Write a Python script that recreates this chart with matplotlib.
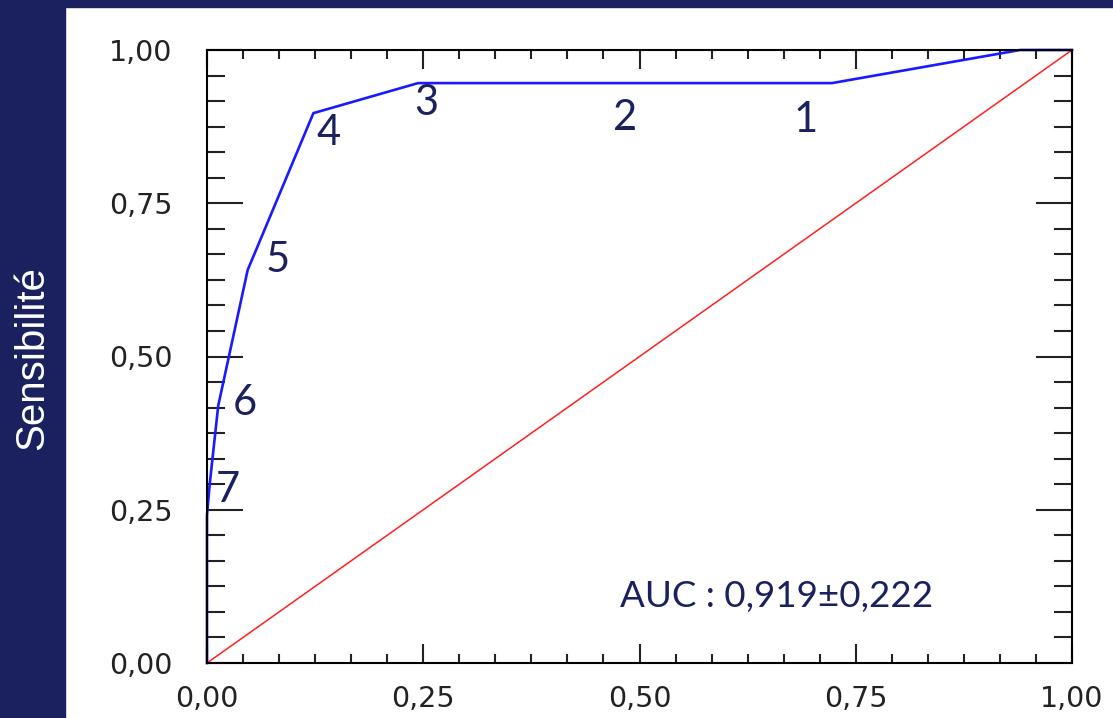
import matplotlib
matplotlib.use("Agg")
import matplotlib.pyplot as plt
from matplotlib.patches import Rectangle
from matplotlib.ticker import MultipleLocator, FuncFormatter

NAVY = "#1a215e"

# ROC curve (1 - specificity, sensitivity)
fpr = [0.0, 0.0, 0.003, 0.013, 0.047, 0.123, 0.244, 0.49, 0.7225, 0.94, 1.0]
tpr = [0.0, 0.241, 0.29, 0.42, 0.641, 0.897, 0.946, 0.946, 0.946, 1.0, 1.0]

# threshold labels and where they sit
point_labels = ["1", "2", "3", "4", "5", "6", "7"]
label_x = [0.6925, 0.483, 0.254, 0.140, 0.082, 0.044, 0.024]
label_y = [0.886, 0.889, 0.914, 0.865, 0.657, 0.424, 0.282]

auc_text = "AUC : 0,919±0,222"
y_label = "Sensibilité"

fig = plt.figure(figsize=(11.13, 7.18), dpi=100)
fig.patch.set_facecolor("white")

# navy frame on the left and top
fig.patches.append(Rectangle((0, 0), 65 / 1113, 1, transform=fig.transFigure,
                             color=NAVY, zorder=0))
fig.patches.append(Rectangle((0, 1 - 7 / 718), 1, 7 / 718, transform=fig.transFigure,
                             color=NAVY, zorder=0))

ax = fig.add_axes([207 / 1113, 55 / 718, 865 / 1113, 613 / 718])

ax.plot([0, 1], [0, 1], color="#ff2020", lw=1.1, zorder=2)
ax.plot(fpr, tpr, color="#1a1aff", lw=1.9, zorder=3, clip_on=False)

for lab, lx, ly in zip(point_labels, label_x, label_y):
    ax.text(lx, ly, lab, color=NAVY, fontsize=30, family="Lato",
            ha="center", va="center")

ax.text(0.659, 0.108, auc_text, color=NAVY, fontsize=26.5, family="Lato",
        ha="center", va="center")

ax.set_xlim(0, 1)
ax.set_ylim(0, 1)
ax.xaxis.set_major_locator(MultipleLocator(0.25))
ax.yaxis.set_major_locator(MultipleLocator(0.25))
ax.xaxis.set_minor_locator(MultipleLocator(0.25 / 6))
ax.yaxis.set_minor_locator(MultipleLocator(0.25 / 6))
comma = FuncFormatter(lambda v, p: "{:.2f}".format(v).replace(".", ","))
ax.xaxis.set_major_formatter(comma)
ax.yaxis.set_major_formatter(comma)

for s in ax.spines.values():
    s.set_linewidth(1.5)
    s.set_zorder(4)

ax.tick_params(axis="both", which="both", direction="in", top=True, right=True,
               width=1.5, colors="#222222", labelcolor="#222222")
ax.tick_params(axis="x", which="major", length=14, pad=16, labelsize=20.5)
ax.tick_params(axis="x", which="minor", length=6.5)
ax.tick_params(axis="y", which="major", length=26, pad=25, labelsize=20.5)
ax.tick_params(axis="y", which="minor", length=13)

fig.text(32 / 1113, 1 - 358 / 718, y_label, color="white", fontsize=29,
         family="Liberation Sans", rotation=90, ha="center", va="center")

fig.savefig("out.png", dpi=100)
